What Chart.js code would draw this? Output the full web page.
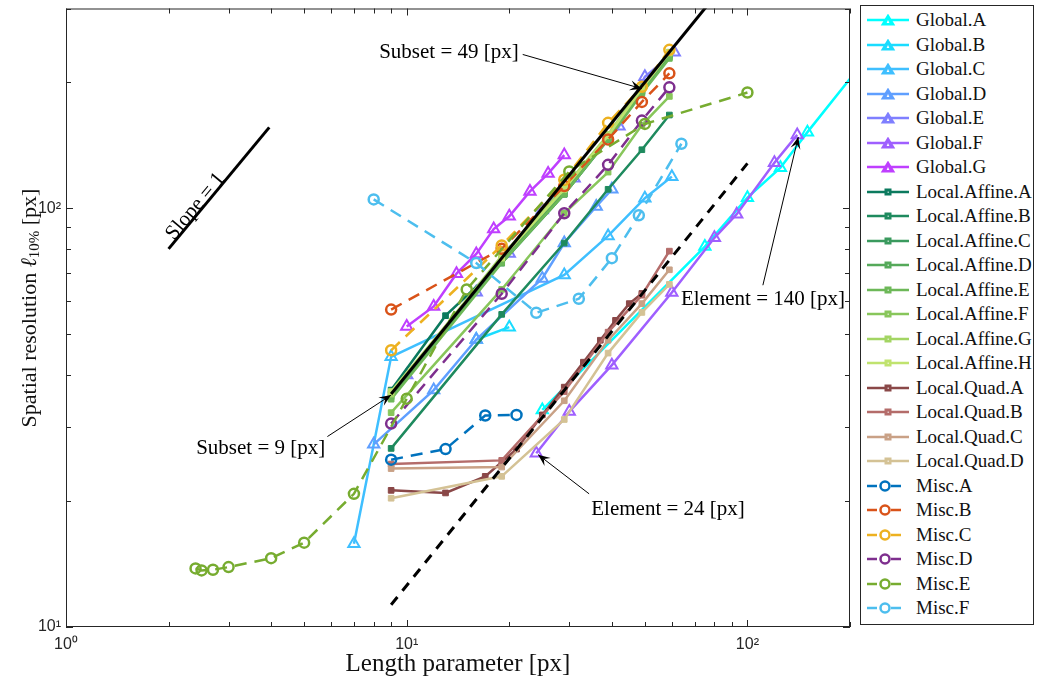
<!DOCTYPE html>
<html>
<head>
<meta charset="utf-8">
<script src="https://cdn.jsdelivr.net/npm/chart.js@4.4.0/dist/chart.umd.min.js"></script>
<style>
  html, body { margin: 0; padding: 0; background: #fff; }
  #wrap { position: relative; width: 1037px; height: 684px; }
  #legend {
    position: absolute; left: 860px; top: 5px; width: 174px; height: 620px;
    border: 1px solid #262626; box-sizing: border-box; background: #fff;
    font-family: 'Liberation Serif', 'Times New Roman', serif; font-size: 19px; color: #111;
  }
  .item { position: absolute; left: 0; height: 20px; display: flex; align-items: center; white-space: nowrap; }
  .item svg { margin-left: 5px; margin-right: 6px; }
</style>
</head>
<body>
<div id="wrap">
  <canvas id="chart" width="1037" height="684"></canvas>
  <div id="legend"></div>
</div>
<script>
// axis ticks
const xMajorTicks = [1, 10, 100];
const xTickLabels = ['10\u2070', '10\u00b9', '10\u00b2'];
const yMajorTicks = [10, 100];
const yTickLabels = ['10\u00b9', '10\u00b2'];

// Global (triangles)
const globalAX = [25, 75, 100, 125, 150, 230];
const globalAY = [33, 81, 106, 125, 152, 235];
const globalBX = [16, 20];
const globalBY = [48.6, 52];
const globalCX = [7, 9, 29, 39, 50, 60];
const globalCY = [15.8, 44.2, 69.3, 85.9, 105.7, 119];
const globalDX = [8, 12, 16, 25, 29, 36, 40];
const globalDY = [27.3, 36.8, 48.6, 68, 82.6, 101, 111];
const globalEX = [10, 16, 20, 25, 31, 42, 50, 61];
const globalEY = [40, 63, 78, 99, 118, 157, 206, 236];
const globalFX = [24, 30, 40, 60, 80, 93, 120, 140];
const globalFY = [26, 32.7, 42.2, 62.9, 85, 96.8, 128.5, 149.7];
const globalGX = [10, 12, 14, 16, 18, 20, 23, 26, 29];
const globalGY = [52.2, 58.3, 69.8, 77.8, 89.2, 95.7, 109.7, 121, 134];

// Local affine / quadratic (squares)
const subsetX = [9, 19, 29, 39, 49, 59];
const affineAX = [9, 13, 19, 29, 39, 49, 59];
const affineAY = [36.8, 55.4, 74, 108, 146, 190, 232];
const affineBY = [26.7, 55.8, 82.6, 111, 138, 167];
const affineCY = [36, 76, 110, 148, 192, 234];
const affineDY = [35.5, 75, 109, 147, 190, 230];
const affineEY = [35, 74, 108, 146, 188, 228];
const affineFY = [32.5, 64, 97.3, 122, 158, 185];
const affineGY = [36, 77, 112, 150, 195, 236];
const affineHY = [36.5, 76, 111, 149, 193, 235];
const quadAX = [9, 13, 17, 21, 25, 29, 33, 37, 41, 45, 49];
const quadAY = [21.2, 20.9, 22.9, 26.6, 32.1, 37.4, 42.9, 48.4, 54, 59.2, 62.6];
const quadBY = [24.5, 25, 36.5, 50.6, 62, 79];
const quadCY = [23.9, 24.1, 34.7, 48.4, 59.2, 71.3];
const quadDY = [20.3, 22.9, 31.3, 45.1, 56.4, 65.8];

// Misc (dashed, circles)
const miscAX = [9, 13, 17, 21];
const miscAY = [25.1, 26.6, 32, 32.1];
const miscBY = [57.3, 80, 113, 146, 179.5, 210];
const miscCY = [45.8, 81.5, 117, 160, 195, 239];
const miscDY = [30.6, 62.5, 97.3, 127, 162, 194.5];
const miscEX = [2.4, 2.5, 2.7, 3, 4, 5, 7, 10, 15, 30, 50, 100];
const miscEY = [13.8, 13.65, 13.7, 13.9, 14.6, 15.9, 20.8, 35.1, 64, 122.5, 159, 189];
const miscFX = [8, 16, 24, 32, 40, 48, 64];
const miscFY = [105, 74, 56.3, 60.8, 76, 96.2, 142.6];

// reference lines
const fitSolidX = [9, 80];
const fitSolidY = [36, 320];
const fitDashedX = [9, 100];
const fitDashedY = [11.3, 128];
const slopeX = [2, 3.95];
const slopeY = [80, 156];

const seriesNames = ['Global.A', 'Global.B', 'Global.C', 'Global.D', 'Global.E', 'Global.F', 'Global.G',
  'Local.Affine.A', 'Local.Affine.B', 'Local.Affine.C', 'Local.Affine.D', 'Local.Affine.E',
  'Local.Affine.F', 'Local.Affine.G', 'Local.Affine.H',
  'Local.Quad.A', 'Local.Quad.B', 'Local.Quad.C', 'Local.Quad.D',
  'Misc.A', 'Misc.B', 'Misc.C', 'Misc.D', 'Misc.E', 'Misc.F'];
const seriesX = [globalAX, globalBX, globalCX, globalDX, globalEX, globalFX, globalGX,
  affineAX, subsetX, subsetX, subsetX, subsetX, subsetX, subsetX, subsetX,
  quadAX, subsetX, subsetX, subsetX,
  miscAX, subsetX, subsetX, subsetX, miscEX, miscFX];
const seriesY = [globalAY, globalBY, globalCY, globalDY, globalEY, globalFY, globalGY,
  affineAY, affineBY, affineCY, affineDY, affineEY, affineFY, affineGY, affineHY,
  quadAY, quadBY, quadCY, quadDY,
  miscAY, miscBY, miscCY, miscDY, miscEY, miscFY];
const seriesColors = ['#00FFFF', '#1ADCFF', '#3FBFFF', '#5F9FFF', '#7F7FFF', '#9F5FFF', '#BF3FFF',
  '#0B7A5E', '#1E8A5E', '#3A9A5E', '#55A95A', '#6DB858', '#88C65B', '#A3D563', '#C0E36E',
  '#8A4848', '#B46C6A', '#C9A186', '#D4C295',
  '#0072BD', '#D95319', '#EDB120', '#7E2F8E', '#77AC30', '#4DBEEE'];

const serif = "'Liberation Serif', 'Times New Roman', serif";
const sans = "'Liberation Sans', Arial, sans-serif";

function styleFor(name) {
  if (name.startsWith('Global')) return { pointStyle: 'triangle', pointRadius: 6.5, pointBorderWidth: 2, fill: false, dash: [] };
  if (name.startsWith('Local')) return { pointStyle: 'rect', pointRadius: 4, pointBorderWidth: 1, fill: true, dash: [] };
  return { pointStyle: 'circle', pointRadius: 5, pointBorderWidth: 2.5, fill: false, dash: [12, 8] };
}

const datasets = seriesNames.map((name, i) => {
  const s = styleFor(name);
  return {
    label: name,
    data: seriesX[i].map((x, j) => ({ x: x, y: seriesY[i][j] })),
    showLine: true,
    borderColor: seriesColors[i],
    borderWidth: 2.5,
    borderDash: s.dash,
    pointStyle: s.pointStyle,
    pointRadius: s.pointRadius,
    pointBorderWidth: s.pointBorderWidth,
    pointBorderColor: seriesColors[i],
    pointBackgroundColor: s.fill ? seriesColors[i] : 'rgba(255,255,255,0)',
    order: -i
  };
});
[[fitSolidX, fitSolidY, []], [fitDashedX, fitDashedY, [10, 8]], [slopeX, slopeY, []]].forEach((r, k) => {
  datasets.push({
    label: 'ref' + k,
    data: r[0].map((x, j) => ({ x: x, y: r[1][j] })),
    showLine: true, borderColor: '#000', borderWidth: 3, borderDash: r[2],
    pointRadius: 0, order: -100 - k
  });
});

// text annotations, in data coordinates
const notes = [
  { text: 'Subset = 49 [px]', x: 8.3, y: 236, from: [21.9, 233], to: [49, 193] },
  { text: 'Subset = 9 [px]', x: 2.41, y: 26.7, from: [5.85, 28.5], to: [9, 35.8] },
  { text: 'Element = 24 [px]', x: 34.8, y: 19.1, from: [34.3, 20.8], to: [24.3, 25.8] },
  { text: 'Element = 140 [px]', x: 63.8, y: 60.6, from: [111, 65.5], to: [141, 148] }
];
const slopeNote = { text: 'Slope = 1', x: 2.4, y: 101 };

function arrow(ctx, x1, y1, x2, y2) {
  ctx.beginPath(); ctx.moveTo(x1, y1); ctx.lineTo(x2, y2); ctx.stroke();
  const ang = Math.atan2(y2 - y1, x2 - x1), L = 12, W = 5;
  const c = Math.cos(ang), s = Math.sin(ang);
  ctx.beginPath();
  ctx.moveTo(x2, y2);
  ctx.lineTo(x2 - L * c - W * s, y2 - L * s + W * c);
  ctx.lineTo(x2 - 0.6 * L * c, y2 - 0.6 * L * s);
  ctx.lineTo(x2 - L * c + W * s, y2 - L * s - W * c);
  ctx.closePath(); ctx.fill();
}

const framePlugin = {
  id: 'frame',
  afterDatasetsDraw(chart) {
    const { ctx, chartArea: a, scales: { x, y } } = chart;
    ctx.save();
    ctx.fillStyle = '#000'; ctx.strokeStyle = '#000'; ctx.lineWidth = 1;
    ctx.font = '21px ' + serif; ctx.textBaseline = 'middle'; ctx.textAlign = 'left';
    notes.forEach(n => {
      ctx.fillText(n.text, x.getPixelForValue(n.x), y.getPixelForValue(n.y));
      arrow(ctx, x.getPixelForValue(n.from[0]), y.getPixelForValue(n.from[1]),
        x.getPixelForValue(n.to[0]), y.getPixelForValue(n.to[1]));
    });
    // slope label along the slope line
    const p0x = x.getPixelForValue(slopeX[0]), p0y = y.getPixelForValue(slopeY[0]);
    const p1x = x.getPixelForValue(slopeX[1]), p1y = y.getPixelForValue(slopeY[1]);
    ctx.save();
    ctx.translate(x.getPixelForValue(slopeNote.x), y.getPixelForValue(slopeNote.y));
    ctx.rotate(Math.atan2(p1y - p0y, p1x - p0x));
    ctx.textAlign = 'center';
    ctx.fillText(slopeNote.text, 0, 0);
    ctx.restore();

    // box with inward ticks
    ctx.strokeStyle = '#262626';
    ctx.strokeRect(a.left + 0.5, a.top + 0.5, a.right - a.left - 1, a.bottom - a.top - 1);
    ctx.beginPath();
    x.ticks.forEach(t => {
      const px = Math.round(x.getPixelForValue(t.value)) + 0.5, len = t.major ? 7 : 5;
      ctx.moveTo(px, a.bottom); ctx.lineTo(px, a.bottom - len);
      ctx.moveTo(px, a.top); ctx.lineTo(px, a.top + len);
    });
    y.ticks.forEach(t => {
      const py = Math.round(y.getPixelForValue(t.value)) + 0.5, len = t.major ? 7 : 5;
      ctx.moveTo(a.left, py); ctx.lineTo(a.left + len, py);
      ctx.moveTo(a.right, py); ctx.lineTo(a.right - len, py);
    });
    ctx.stroke();

    // y title with subscript
    ctx.save();
    ctx.translate(30, 308);
    ctx.rotate(-Math.PI / 2);
    ctx.fillStyle = '#111';
    const parts = [
      { t: 'Spatial resolution ', f: '22px ' + serif, dy: 0 },
      { t: '\u2113', f: 'italic 22px ' + serif, dy: 0 },
      { t: '10%', f: '15px ' + serif, dy: 5 },
      { t: ' [px]', f: '22px ' + serif, dy: 0 }
    ];
    let total = 0;
    parts.forEach(p => { ctx.font = p.f; p.w = ctx.measureText(p.t).width; total += p.w; });
    let cx = -total / 2;
    ctx.textAlign = 'left';
    parts.forEach(p => { ctx.font = p.f; ctx.fillText(p.t, cx, p.dy); cx += p.w; });
    ctx.restore();
    ctx.restore();
  }
};

function logTicks(min, max) {
  const out = [];
  for (let d = min; d < max * 1.0001; d *= 10) {
    for (let m = 1; m <= 9; m++) { const v = d * m; if (v >= min && v <= max * 1.0001) out.push(v); }
  }
  return out;
}

new Chart(document.getElementById('chart'), {
  type: 'scatter',
  data: { datasets: datasets },
  options: {
    responsive: false,
    animation: false,
    layout: { padding: { left: 10, right: 187, top: 2, bottom: 0 } },
    plugins: { legend: { display: false }, tooltip: { enabled: false } },
    scales: {
      x: {
        type: 'logarithmic', min: 1, max: 200,
        grid: { display: false, drawTicks: false }, border: { display: false },
        afterBuildTicks: s => { s.ticks = logTicks(1, 200).map(v => ({ value: v, major: xMajorTicks.includes(v) })); },
        afterFit: s => { s.height = 57; s.paddingLeft = 0; s.paddingRight = 0; },
        ticks: {
          autoSkip: false, maxRotation: 0, padding: 8, color: '#262626',
          font: { family: sans, size: 16 },
          callback: v => { const k = xMajorTicks.indexOf(v); return k >= 0 ? xTickLabels[k] : ''; }
        },
        title: { display: true, text: 'Length parameter [px]', color: '#111', font: { family: serif, size: 25 }, padding: { top: 0, bottom: 5 } }
      },
      y: {
        type: 'logarithmic', min: 10, max: 300,
        grid: { display: false, drawTicks: false }, border: { display: false },
        afterBuildTicks: s => { s.ticks = logTicks(10, 300).map(v => ({ value: v, major: yMajorTicks.includes(v) })); },
        afterFit: s => { s.width = 56; s.paddingTop = 0; s.paddingBottom = 0; },
        ticks: {
          autoSkip: false, padding: 5, color: '#262626',
          font: { family: sans, size: 16 },
          callback: v => { const k = yMajorTicks.indexOf(v); return k >= 0 ? yTickLabels[k] : ''; }
        }
      }
    }
  },
  plugins: [framePlugin]
});

// legend: line + marker icon, then name
const legend = document.getElementById('legend');
seriesNames.forEach((name, i) => {
  const s = styleFor(name);
  const c = seriesColors[i];
  let marker;
  if (s.pointStyle === 'triangle') marker = `<polygon points="22,1.5 27.5,10.5 16.5,10.5" fill="${c}" stroke="${c}" stroke-width="2"/><polygon points="22,6 23.4,9 20.6,9" fill="#fff"/>`;
  else if (s.pointStyle === 'rect') marker = `<rect x="18.5" y="2.5" width="7" height="7" fill="${c}"/><rect x="21.5" y="5.5" width="1.5" height="1.5" fill="#fff" opacity="0.6"/>`;
  else marker = `<circle cx="19" cy="6" r="4.5" fill="#fff" stroke="${c}" stroke-width="2.5"/>`;
  const line = s.dash.length
    ? `<line x1="1" y1="6" x2="11" y2="6" stroke="${c}" stroke-width="2.5"/><line x1="25" y1="6" x2="35" y2="6" stroke="${c}" stroke-width="2.5"/>`
    : `<line x1="1" y1="6" x2="43" y2="6" stroke="${c}" stroke-width="2.5"/>`;
  const item = document.createElement('div');
  item.className = 'item';
  item.style.top = (14 + i * 24.5 - 10) + 'px';
  item.innerHTML = `<svg width="44" height="12">${line}${marker}</svg><span>${name}</span>`;
  legend.appendChild(item);
});
</script>
</body>
</html>
